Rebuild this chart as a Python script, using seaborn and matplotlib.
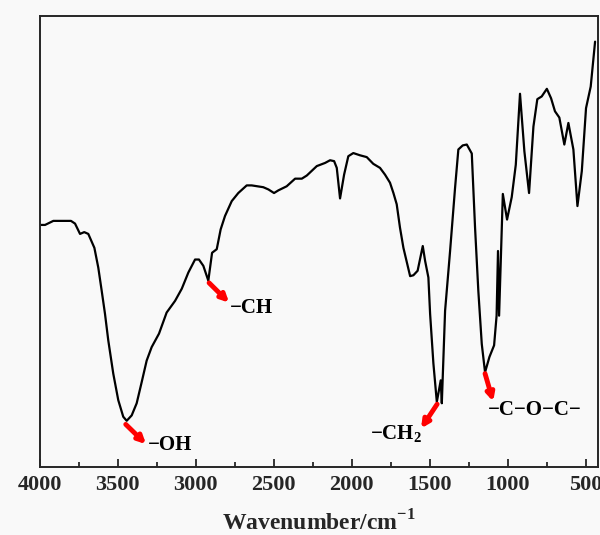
import matplotlib
matplotlib.use("Agg")
import matplotlib.pyplot as plt
from matplotlib.ticker import MultipleLocator
import pandas as pd
import seaborn as sns

# FTIR spectrum, wavenumber (cm-1) and transmittance (a.u., 0-100)
wavenumber = [4000, 3965, 3912, 3799, 3773, 3741, 3714, 3688, 3649, 3624,
              3602, 3581, 3560, 3528, 3496, 3464, 3442, 3410, 3378, 3346,
              3314, 3282, 3235, 3186, 3132, 3089, 3047, 3004, 2979, 2951,
              2919, 2895, 2865, 2840, 2812, 2769, 2727, 2673, 2641, 2567,
              2534, 2498, 2470, 2417, 2363, 2320, 2288, 2224, 2171, 2139,
              2113, 2096, 2075, 2049, 2022, 1990, 1947, 1904, 1862, 1819,
              1787, 1755, 1733, 1712, 1691, 1669, 1626, 1605, 1578, 1545,
              1530, 1509, 1498, 1477, 1455, 1445, 1430, 1423, 1402, 1370,
              1338, 1317, 1289, 1263, 1231, 1210, 1189, 1167, 1146, 1118,
              1088, 1072, 1063, 1056, 1032, 1005, 975, 949, 922, 894,
              864, 836, 811, 783, 750, 723, 698, 670, 638, 612,
              580, 554, 526, 499, 469, 441]
transmittance = [53.9, 53.9, 54.8, 54.8, 54.2, 51.9, 52.3, 51.9, 48.8, 44.4,
                 39.2, 34.1, 28.2, 20.8, 14.9, 11.2, 10.3, 11.5, 14.2, 18.9,
                 23.7, 26.7, 29.7, 34.4, 37.0, 39.7, 43.3, 46.2, 46.2, 44.8,
                 41.5, 47.7, 48.5, 52.9, 55.9, 59.2, 61.0, 62.7, 62.7, 62.3,
                 61.8, 61.0, 61.6, 62.5, 64.2, 64.2, 64.9, 67.0, 67.7, 68.3,
                 68.1, 66.6, 59.8, 65.1, 69.2, 69.9, 69.4, 69.0, 67.5, 66.6,
                 65.1, 63.3, 61.0, 58.5, 53.3, 48.8, 42.5, 42.7, 43.7, 49.2,
                 45.9, 42.2, 34.1, 23.1, 14.5, 16.4, 19.3, 14.2, 34.8, 48.1,
                 62.2, 70.7, 71.6, 71.8, 69.8, 53.3, 39.2, 27.4, 21.1, 24.5,
                 27.1, 33.7, 48.1, 33.7, 60.8, 55.1, 60.1, 67.3, 83.1, 70.3,
                 61.0, 75.8, 81.9, 82.5, 84.2, 82.1, 79.2, 77.8, 71.8, 76.6,
                 70.7, 58.1, 65.9, 79.9, 84.7, 94.7]

# group labels: (text, arrow tail, arrow head, text position, alignment)
group_labels = ["\u2212OH", "\u2212CH", "\u2212CH$_{\\mathbf{2}}$", "\u2212C\u2212O\u2212C\u2212"]
arrow_tail = [(3448, 9.5), (2914, 41.0), (1453, 14.0), (1146, 20.8)]
arrow_head = [(3318, 5.1), (2786, 36.6), (1556, 8.6), (1094, 14.6)]
label_pos = [(3305, 4.9), (2780, 35.5), (1550, 7.3), (1126, 12.6)]
label_ha = ["left", "left", "right", "left"]

df = pd.DataFrame({"wavenumber": wavenumber, "T": transmittance})

sns.set_style("ticks")
plt.rcParams["font.family"] = ["Liberation Serif", "DejaVu Serif"]
plt.rcParams["font.weight"] = "bold"
plt.rcParams["mathtext.fontset"] = "custom"
plt.rcParams["mathtext.rm"] = "Liberation Serif:bold"
plt.rcParams["mathtext.bf"] = "Liberation Serif:bold"

bg = "#f9f9f9"
fig = plt.figure(figsize=(6, 5.35), dpi=100, facecolor=bg)
ax = fig.add_axes([0.066, 0.127, 0.931, 0.843], facecolor=bg)

sns.lineplot(data=df, x="wavenumber", y="T", sort=False, estimator=None,
             color="black", linewidth=1.6, ax=ax)

for txt, tail, head, pos, ha in zip(group_labels, arrow_tail, arrow_head, label_pos, label_ha):
    ax.annotate("", xy=head, xytext=tail,
                arrowprops=dict(arrowstyle="-|>", color="red", lw=3.5,
                                mutation_scale=11, shrinkA=0, shrinkB=0))
    ax.text(pos[0], pos[1], txt, ha=ha, va="center", fontsize=15,
            fontweight="bold", color="black")

ax.set_xlim(4000, 421)
ax.set_ylim(0, 100.4)
ax.xaxis.set_major_locator(MultipleLocator(500))
ax.xaxis.set_minor_locator(MultipleLocator(250))
ax.tick_params(axis="x", which="major", direction="in", length=6, width=1.3,
               labelsize=16, pad=6)
ax.tick_params(axis="x", which="minor", direction="in", length=3.5, width=1.3)
ax.set_yticks([])
for lab in ax.get_xticklabels():
    lab.set_fontweight("bold")

for sp in ax.spines.values():
    sp.set_visible(True)
    sp.set_linewidth(1.4)

ax.set_xlabel("Wavenumber/cm$^{\\mathbf{-1}}$", fontsize=17, fontweight="bold", labelpad=11)
ax.set_ylabel("")

fig.savefig("out.png", dpi=100, facecolor=bg)
